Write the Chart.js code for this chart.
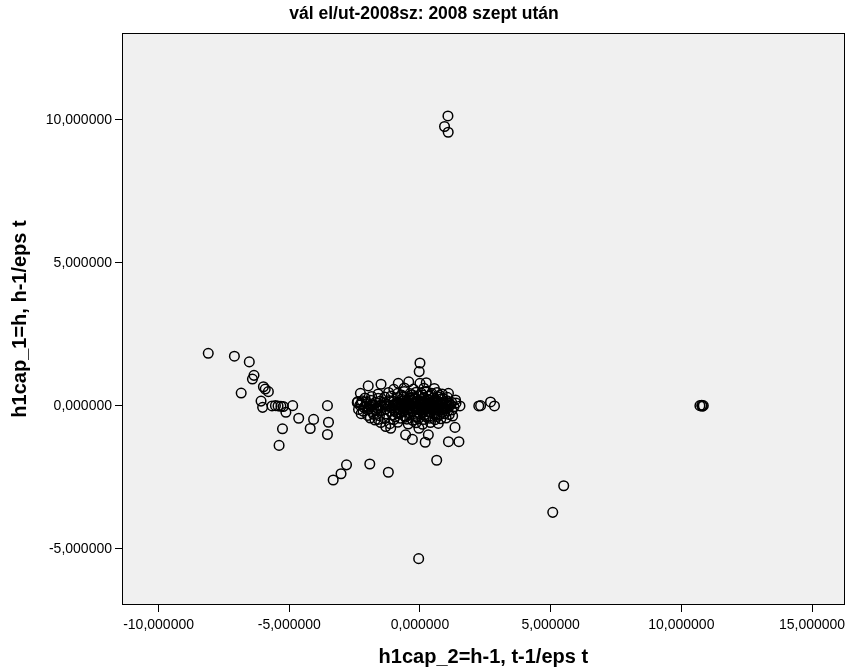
<!DOCTYPE html>
<html>
<head>
<meta charset="utf-8">
<title>vál el/ut-2008sz: 2008 szept után</title>
<script src="https://cdn.jsdelivr.net/npm/chart.js@4.4.1/dist/chart.umd.min.js"></script>
<style>
  html, body { margin: 0; padding: 0; background: #fff; }
  #wrap { width: 851px; height: 670px; }
</style>
</head>
<body>
<div id="wrap"><canvas id="myChart"></canvas></div>
<script>
// x = h1cap_2, y = h1cap_1 ; each point is [x, y]
var topOutliers = [[1.07,10.14],[0.94,9.77],[1.08,9.57]];

var leftTail = [
	[-8.10,1.84],[-7.10,1.74],[-6.53,1.54],[-6.35,1.07],[-6.41,0.94],[-6.84,0.45],
	[-5.99,0.67],[-5.92,0.59],[-5.80,0.50],[-6.08,0.17],[-6.02,-0.05],[-5.66,0.00],
	[-5.53,0.01],[-5.43,0.00],[-5.32,-0.01],[-5.23,-0.02],[-5.13,-0.22],[-4.87,0.01],
	[-4.64,-0.43],[-4.07,-0.47],[-4.20,-0.79],[-5.26,-0.80],[-5.39,-1.38],
	[-3.54,0.01],[-3.50,-0.57],[-3.54,-1.00]
];

var lowerPoints = [
	[-2.81,-2.06],[-3.02,-2.37],[-3.32,-2.59],[-1.92,-2.03],[-1.21,-2.32],
	[0.64,-1.90],[-0.05,-5.34],[5.50,-2.79],[5.08,-3.72]
];

var rightPoints = [
	[2.25,0.00],[2.32,0.01],[2.70,0.14],[2.85,0.00],
	[10.71,0.01],[10.78,0.02],[10.84,0.01],[10.80,-0.01]
];

var clusterEdge = [
	[0.00,1.50],[-0.03,1.20],[-1.98,0.70],[-1.49,0.76],[-0.83,0.79],[-0.43,0.84],
	[0.00,0.79],[0.24,0.81],[0.55,0.61],[1.09,0.44],[-2.28,0.44],[-2.38,0.15],
	[1.36,0.21],[1.53,0.00],[1.34,-0.75],[1.25,-0.35],[1.09,-1.25],[1.49,-1.25],
	[0.20,-1.27],[-0.29,-1.17],[-0.55,-1.01],[0.32,-1.01],[-1.31,-0.72],[-1.12,-0.78],
	[-1.72,-0.49],[-0.04,-0.78]
];

var clusterCore = [
	[-2.30,0.03],[-2.15,-0.05],[-2.02,0.08],[-1.90,-0.02],[-1.78,0.05],[-1.65,-0.07],
	[-1.52,0.02],[-1.40,-0.04],[-1.28,0.06],[-1.15,-0.01],[-1.02,0.04],[-0.90,-0.06],
	[-0.78,0.02],[-0.66,-0.03],[-0.55,0.05],[-0.43,-0.02],[-0.31,0.03],[-0.20,-0.05],
	[-0.09,0.01],[0.02,0.04],[0.13,-0.03],[0.24,0.02],[0.35,-0.04],[0.46,0.05],
	[0.58,-0.02],[0.70,0.03],[0.82,-0.05],[0.94,0.02],[1.06,-0.01],[1.18,0.04],[1.30,-0.03],

	[-2.40,0.12],[-2.22,0.18],[-2.05,0.14],[-1.88,0.20],[-1.70,0.13],[-1.52,0.17],
	[-1.35,0.11],[-1.18,0.19],[-1.00,0.15],[-0.83,0.12],[-0.66,0.18],[-0.49,0.14],
	[-0.32,0.20],[-0.15,0.13],[0.02,0.17],[0.19,0.12],[0.36,0.19],[0.53,0.14],
	[0.70,0.16],[0.87,0.12],[1.04,0.18],[1.21,0.13],[1.38,0.10],

	[-2.35,-0.12],[-2.18,-0.18],[-2.00,-0.14],[-1.83,-0.20],[-1.66,-0.13],[-1.49,-0.17],
	[-1.32,-0.11],[-1.15,-0.19],[-0.98,-0.15],[-0.81,-0.12],[-0.64,-0.18],[-0.47,-0.14],
	[-0.30,-0.20],[-0.13,-0.13],[0.04,-0.17],[0.21,-0.12],[0.38,-0.19],[0.55,-0.14],
	[0.72,-0.16],[0.89,-0.12],[1.06,-0.18],[1.23,-0.14],

	[-2.10,0.28],[-1.85,0.33],[-1.60,0.27],[-1.35,0.31],[-1.10,0.35],[-0.85,0.29],
	[-0.62,0.33],[-0.42,0.27],[-0.22,0.32],[-0.03,0.36],[0.15,0.29],[0.33,0.34],
	[0.51,0.28],[0.69,0.32],[0.87,0.27],[1.05,0.30],

	[-2.25,-0.27],[-2.00,-0.33],[-1.78,-0.29],[-1.55,-0.34],[-1.30,-0.28],[-1.05,-0.32],
	[-0.82,-0.27],[-0.60,-0.35],[-0.40,-0.29],[-0.20,-0.33],[0.00,-0.27],[0.18,-0.31],
	[0.36,-0.36],[0.55,-0.28],[0.74,-0.32],[0.93,-0.27],[1.12,-0.30],

	[-1.60,0.42],[-1.20,0.47],[-0.85,0.44],[-0.60,0.50],[-0.38,0.43],[-0.15,0.48],
	[0.05,0.45],[0.25,0.51],[0.45,0.44],[0.65,0.47],[0.85,0.42],

	[-1.90,-0.42],[-1.60,-0.47],[-1.35,-0.44],[-1.00,-0.48],[-0.75,-0.43],[-0.50,-0.46],
	[-0.28,-0.50],[-0.06,-0.44],[0.15,-0.47],[0.36,-0.43],[0.58,-0.48],[0.80,-0.45],[1.00,-0.42],

	[-1.50,-0.58],[-1.15,-0.62],[-0.85,-0.57],[-0.45,-0.63],[-0.15,-0.59],[0.10,-0.64],
	[0.40,-0.58],[0.70,-0.61],
	[-1.00,0.58],[-0.60,0.63],[-0.25,0.59],[0.15,0.62],

	[-0.95,0.07],[-0.72,0.09],[-0.50,0.06],[-0.28,0.08],[-0.05,0.07],[0.18,0.09],
	[0.40,0.06],[0.62,0.08],[0.84,0.07],[1.00,0.09],
	[-1.60,-0.08],[-1.10,-0.07],[-0.85,-0.09],[-0.60,-0.08],[-0.38,-0.07],[-0.16,-0.09],
	[0.06,-0.08],[0.28,-0.07],[0.50,-0.09],[0.72,-0.08],[0.95,-0.07],
	[-0.70,0.23],[-0.45,0.21],[-0.20,0.24],[0.08,0.22],[0.30,0.23],[0.55,0.21],[0.80,0.24],
	[-0.90,-0.23],[-0.65,-0.21],[-0.40,-0.24],[-0.12,-0.22],[0.10,-0.23],[0.32,-0.21],
	[0.60,-0.24],[0.85,-0.22]
];

// extra overlapping points that make the middle of the blob solid black
var clusterDense = [
	[-2.08,-0.01],[-1.84,0.03],[-1.58,0.00],[-1.34,0.02],[-0.97,0.01],[-0.84,0.03],
	[-0.60,0.00],[-0.37,0.02],[-0.14,-0.01],[0.08,0.01],[0.30,0.03],[0.52,0.00],
	[0.76,0.01],[0.99,-0.02],[1.12,0.01],
	[-0.88,0.10],[-0.58,0.11],[-0.26,0.10],[0.10,0.11],[0.44,0.10],[0.78,0.11],[1.12,0.10],
	[-0.75,-0.11],[-0.42,-0.10],[-0.06,-0.11],[0.32,-0.10],[0.66,-0.11],[1.00,-0.10],
	[-1.95,-0.09],[-2.25,0.08],
	[-0.70,0.38],[-0.30,0.39],[0.10,0.38],[0.42,0.39],[0.75,0.37],
	[-0.95,-0.38],[-0.55,-0.39],[-0.15,-0.38],[0.25,-0.39],[0.65,-0.37]
];

var xTicks = [-10, -5, 0, 5, 10, 15];
var yTicks = [-5, 0, 5, 10];

var chartTitle = 'vál el/ut-2008sz: 2008 szept után';
var xTitle = 'h1cap_2=h-1, t-1/eps t';
var yTitle = 'h1cap_1=h, h-1/eps t';

var allPoints = [].concat(topOutliers, leftTail, lowerPoints, rightPoints, clusterEdge, clusterCore, clusterDense)
	.map(function(p){ return {x: p[0], y: p[1]}; });

var fontFam = "'Liberation Sans', Arial, Helvetica, sans-serif";

function fmt(v) {
	return Number(v).toFixed(6).replace('.', ',');
}

// grey plot area and black frame like SPSS
var plotFrame = {
	id: 'plotFrame',
	beforeDraw: function(chart) {
		var a = chart.chartArea, ctx = chart.ctx;
		ctx.save();
		ctx.fillStyle = '#f0f0f0';
		ctx.fillRect(a.left, a.top, a.right - a.left, a.bottom - a.top);
		ctx.restore();
	},
	afterDraw: function(chart) {
		var a = chart.chartArea, ctx = chart.ctx;
		ctx.save();
		ctx.strokeStyle = '#000';
		ctx.lineWidth = 1;
		ctx.strokeRect(Math.round(a.left) + 0.5, Math.round(a.top) + 0.5,
			Math.round(a.right - a.left) - 1, Math.round(a.bottom - a.top) - 1);
		ctx.restore();
	}
};

var ctx = document.getElementById('myChart');

var scatter = new Chart(ctx, {
	type: 'scatter',
	data: {
		datasets: [{
			data: allPoints,
			pointStyle: 'circle',
			pointRadius: 4.8,
			pointBorderWidth: 1.5,
			borderColor: '#000',
			backgroundColor: 'rgba(0,0,0,0)',
			pointHoverRadius: 4.8
		}]
	},
	options: {
		responsive: true,
		maintainAspectRatio: false,
		animation: false,
		events: [],
		layout: { padding: { left: 0, right: 3, top: 0, bottom: 0 } },
		plugins: {
			legend: { display: false },
			tooltip: { enabled: false },
			title: {
				display: true,
				text: chartTitle,
				color: '#000',
				font: { family: fontFam, size: 17.5, weight: 'bold' },
				padding: { top: 4, bottom: 8 }
			}
		},
		scales: {
			x: {
				type: 'linear',
				min: -11.40,
				max: 16.25,
				afterBuildTicks: function(s) { s.ticks = xTicks.map(function(v){ return {value: v}; }); },
				afterFit: function(s) { s.height = 65; s.paddingLeft = 0; s.paddingRight = 0; },
				ticks: {
					color: '#000',
					padding: 5,
					maxRotation: 0,
					autoSkip: false,
					font: { family: fontFam, size: 14 },
					callback: fmt
				},
				grid: { display: true, drawOnChartArea: false, drawTicks: true, tickLength: 7, color: '#000' },
				border: { display: false },
				title: {
					display: true,
					text: xTitle,
					color: '#000',
					font: { family: fontFam, size: 20, weight: 'bold' },
					padding: { top: 0, bottom: 1 }
				}
			},
			y: {
				type: 'linear',
				min: -6.96,
				max: 13.04,
				afterBuildTicks: function(s) { s.ticks = yTicks.map(function(v){ return {value: v}; }); },
				afterFit: function(s) { s.width = 122; s.paddingTop = 0; s.paddingBottom = 0; },
				ticks: {
					color: '#000',
					padding: 3,
					autoSkip: false,
					font: { family: fontFam, size: 14 },
					callback: fmt
				},
				grid: { display: true, drawOnChartArea: false, drawTicks: true, tickLength: 7, color: '#000' },
				border: { display: false },
				title: {
					display: true,
					text: yTitle,
					color: '#000',
					font: { family: fontFam, size: 20, weight: 'bold' },
					padding: { top: 8, bottom: 0 }
				}
			}
		}
	},
	plugins: [plotFrame]
});
</script>
</body>
</html>
